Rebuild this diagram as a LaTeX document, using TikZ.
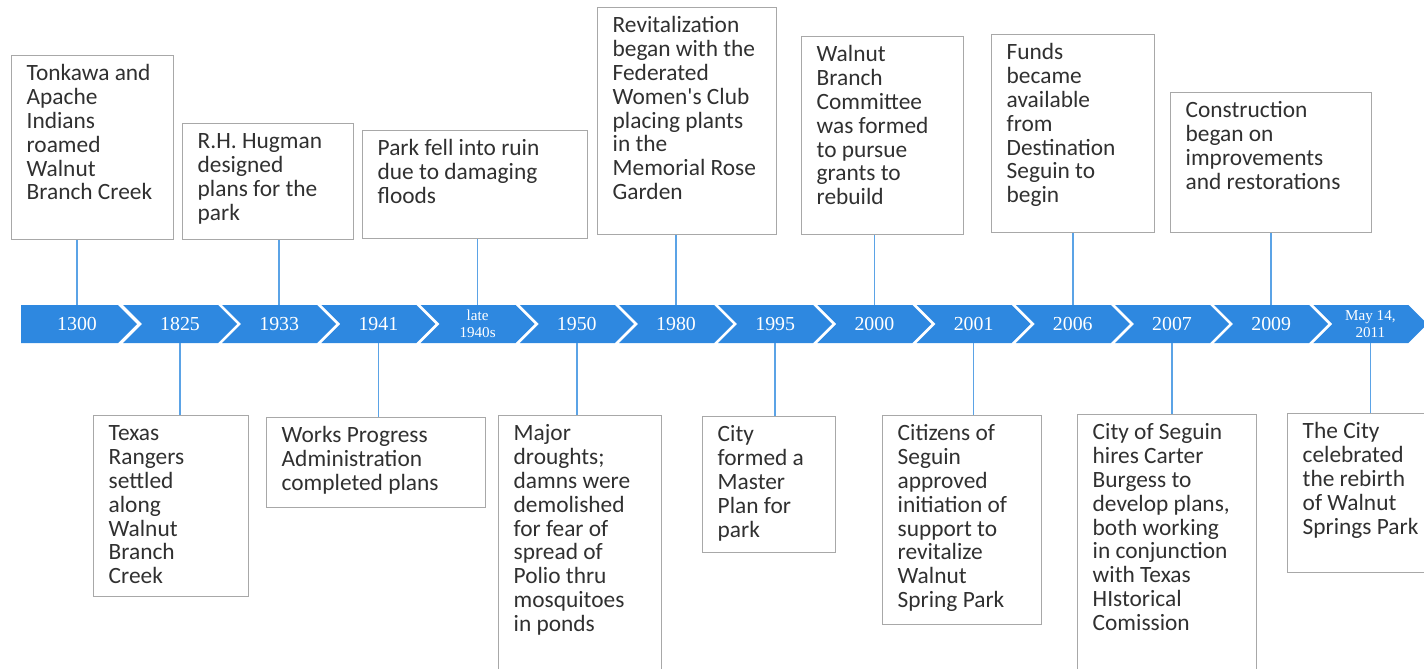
\documentclass[tikz,border=0pt]{standalone}
\usepackage{fontspec}
\setmainfont{Carlito}
\newfontfamily\yearfont{Liberation Serif}
\usepackage{tikz}
\usepackage{xcolor}
\definecolor{barblue}{HTML}{2E88E0}
\definecolor{linkblue}{HTML}{5BA3E6}
\definecolor{boxgray}{HTML}{A8A8A8}
\definecolor{inkgray}{HTML}{303030}
\newcommand{\evtext}[3]{\parbox[t][\dimexpr#2-0.32cm\relax][t]{\dimexpr#1-0.6cm\relax}{\raggedright\strut #3}}

\begin{document}
\begin{tikzpicture}[x=0.02cm,y=-0.02cm,
  evbox/.style={draw=boxgray,line width=0.8pt,anchor=north west,inner xsep=0.3cm,inner ysep=0.16cm,text=inkgray,font=\fontsize{13.3}{13.6}\selectfont},
  chevron/.style={fill=barblue},
  year/.style={text=white,font=\yearfont\fontsize{11.3}{12}\selectfont,minimum height=0.76cm,inner sep=0pt,align=center},
  small year/.style={year,font=\yearfont\fontsize{8.6}{9.4}\selectfont},
  link/.style={draw=linkblue,line width=0.9pt}]
\useasboundingbox (0,0) rectangle (1424,669);
\clip (0,0) rectangle (1424,669);

% the time bar
\fill[chevron] (21,305) -- (118,305) -- (137,324) -- (118,343) -- (21,343) -- cycle;
\fill[chevron] (123,305) -- ++(95,0) -- ++(19,19) -- ++(-19,19) -- ++(-95,0) -- ++(19,-19) -- cycle;
\fill[chevron] (222.2,305) -- ++(95,0) -- ++(19,19) -- ++(-19,19) -- ++(-95,0) -- ++(19,-19) -- cycle;
\fill[chevron] (321.4,305) -- ++(95,0) -- ++(19,19) -- ++(-19,19) -- ++(-95,0) -- ++(19,-19) -- cycle;
\fill[chevron] (420.6,305) -- ++(95,0) -- ++(19,19) -- ++(-19,19) -- ++(-95,0) -- ++(19,-19) -- cycle;
\fill[chevron] (519.8,305) -- ++(95,0) -- ++(19,19) -- ++(-19,19) -- ++(-95,0) -- ++(19,-19) -- cycle;
\fill[chevron] (619,305) -- ++(95,0) -- ++(19,19) -- ++(-19,19) -- ++(-95,0) -- ++(19,-19) -- cycle;
\fill[chevron] (718.2,305) -- ++(95,0) -- ++(19,19) -- ++(-19,19) -- ++(-95,0) -- ++(19,-19) -- cycle;
\fill[chevron] (817.4,305) -- ++(95,0) -- ++(19,19) -- ++(-19,19) -- ++(-95,0) -- ++(19,-19) -- cycle;
\fill[chevron] (916.6,305) -- ++(95,0) -- ++(19,19) -- ++(-19,19) -- ++(-95,0) -- ++(19,-19) -- cycle;
\fill[chevron] (1015.8,305) -- ++(95,0) -- ++(19,19) -- ++(-19,19) -- ++(-95,0) -- ++(19,-19) -- cycle;
\fill[chevron] (1115,305) -- ++(95,0) -- ++(19,19) -- ++(-19,19) -- ++(-95,0) -- ++(19,-19) -- cycle;
\fill[chevron] (1214.2,305) -- ++(95,0) -- ++(19,19) -- ++(-19,19) -- ++(-95,0) -- ++(19,-19) -- cycle;
\fill[chevron] (1313.4,305) -- ++(95,0) -- ++(19,19) -- ++(-19,19) -- ++(-95,0) -- ++(19,-19) -- cycle;

\node[year] (c1300) at (77,324) {1300};
\node[year] (c1825) at (180,324) {1825};
\node[year] (c1933) at (279.2,324) {1933};
\node[year] (c1941) at (378.4,324) {1941};
\node[small year] (clate) at (477.6,324) {late\\1940s};
\node[year] (c1950) at (576.8,324) {1950};
\node[year] (c1980) at (676,324) {1980};
\node[year] (c1995) at (775.2,324) {1995};
\node[year] (c2000) at (874.4,324) {2000};
\node[year] (c2001) at (973.6,324) {2001};
\node[year] (c2006) at (1072.8,324) {2006};
\node[year] (c2007) at (1172,324) {2007};
\node[year] (c2009) at (1271.2,324) {2009};
\node[small year] (c2011) at (1370.4,324) {May 14,\\2011};

% events above the bar
\node[evbox] (tonkawa) at (11,55) {\evtext{3.24cm}{3.68cm}{Tonkawa and\\Apache\\Indians\\roamed\\Walnut\\Branch Creek}};
\node[evbox] (hugman) at (182,123) {\evtext{3.42cm}{2.32cm}{R.H. Hugman\\designed\\plans for the\\park}};
\node[evbox] (ruin) at (362,130) {\evtext{4.50cm}{2.16cm}{Park fell into ruin\\due to damaging\\floods}};
\node[evbox] (revital) at (597,7) {\evtext{3.58cm}{4.54cm}{Revitalization\\began with the\\Federated\\Women\textquotesingle s Club\\placing plants\\in the\\Memorial Rose\\Garden}};
\node[evbox] (committee) at (801,36) {\evtext{3.24cm}{3.96cm}{Walnut\\Branch\\Committee\\was formed\\to pursue\\grants to\\rebuild}};
\node[evbox] (funds) at (991,34) {\evtext{3.26cm}{3.96cm}{Funds\\became\\available\\from\\Destination\\Seguin to\\begin}};
\node[evbox] (construct) at (1170,92) {\evtext{4.02cm}{2.80cm}{Construction\\began on\\improvements\\and restorations}};

% events below the bar
\node[evbox] (rangers) at (93,415) {\evtext{3.10cm}{3.62cm}{Texas\\Rangers\\settled\\along\\Walnut\\Branch\\Creek}};
\node[evbox] (wpa) at (266,417) {\evtext{4.38cm}{1.80cm}{Works Progress\\Administration\\completed plans}};
\node[evbox] (drought) at (498,415) {\evtext{3.26cm}{5.40cm}{Major\\droughts;\\damns were\\demolished\\for fear of\\spread of\\Polio thru\\mosquitoes\\in ponds}};
\node[evbox] (master) at (702,416) {\evtext{2.66cm}{2.72cm}{City\\formed a\\Master\\Plan for\\park}};
\node[evbox] (citizens) at (882,415) {\evtext{3.18cm}{4.18cm}{Citizens of\\Seguin\\approved\\initiation of\\support to\\revitalize\\Walnut\\Spring Park}};
\node[evbox] (burgess) at (1077,414) {\evtext{3.58cm}{5.40cm}{City of Seguin\\hires Carter\\Burgess to\\develop plans,\\both working\\in conjunction\\with Texas\\HIstorical\\Comission}};
\node[evbox] (rebirth) at (1287,413) {\evtext{3.00cm}{3.18cm}{The City\\celebrated\\the rebirth\\of Walnut\\Springs Park}};

% connectors
\draw[link] (c1300.north) -- (c1300.north |- tonkawa.south);
\draw[link] (c1933.north) -- (c1933.north |- hugman.south);
\draw[link] (clate.north) -- (clate.north |- ruin.south);
\draw[link] (c1980.north) -- (c1980.north |- revital.south);
\draw[link] (c2000.north) -- (c2000.north |- committee.south);
\draw[link] (c2006.north) -- (c2006.north |- funds.south);
\draw[link] (c2009.north) -- (c2009.north |- construct.south);
\draw[link] (c1825.south) -- (c1825.south |- rangers.north);
\draw[link] (c1941.south) -- (c1941.south |- wpa.north);
\draw[link] (c1950.south) -- (c1950.south |- drought.north);
\draw[link] (c1995.south) -- (c1995.south |- master.north);
\draw[link] (c2001.south) -- (c2001.south |- citizens.north);
\draw[link] (c2007.south) -- (c2007.south |- burgess.north);
\draw[link] (c2011.south) -- (c2011.south |- rebirth.north);

\end{tikzpicture}
\end{document}
